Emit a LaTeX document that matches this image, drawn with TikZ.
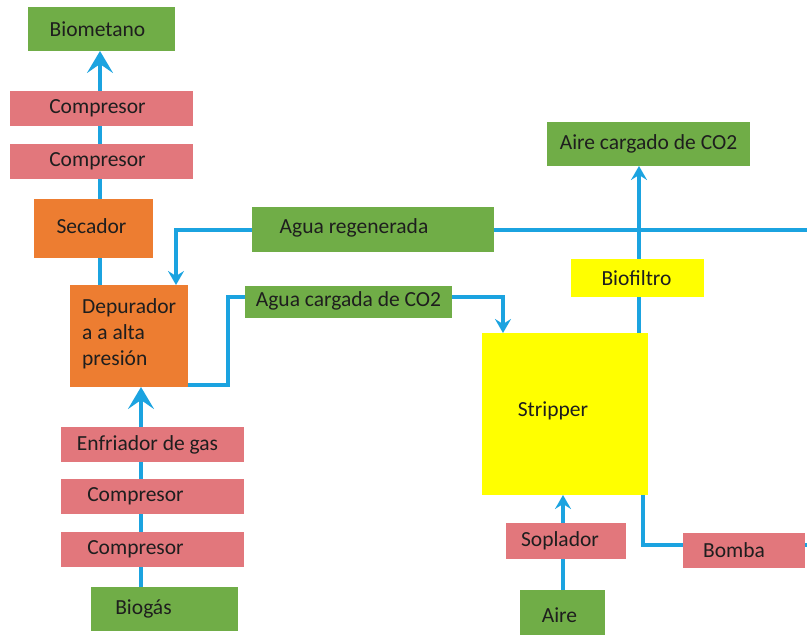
\documentclass[tikz,border=0pt]{standalone}
\usepackage{fontspec}
\setmainfont{Carlito}
\usetikzlibrary{arrows.meta}
\pgfdeclarelayer{pipes}
\pgfsetlayers{pipes,main}

\definecolor{pipeblue}{HTML}{1BA3E0}
\definecolor{boxgreen}{HTML}{70AD47}
\definecolor{boxred}{HTML}{E2777C}
\definecolor{boxorange}{HTML}{ED7D31}
\definecolor{boxyellow}{HTML}{FFFF00}
\definecolor{txtc}{HTML}{1E1E1E}

\begin{document}
\begin{tikzpicture}[x=1pt,y=-1pt,
  blk/.style={anchor=north west, inner sep=0pt, outer sep=0pt, draw=none},
  green/.style={blk, fill=boxgreen},
  red/.style={blk, fill=boxred},
  orange/.style={blk, fill=boxorange},
  yellow/.style={blk, fill=boxyellow},
  txt/.style={font=\fontsize{21.5}{26}\selectfont, text=txtc, inner sep=0pt},
  pipe/.style={draw=pipeblue, line width=4.5pt},
  bigtip/.tip={Stealth[length=22pt,width=26pt,inset=9pt]},
  smalltip/.tip={Stealth[length=14pt,width=16pt,inset=5pt]}]
\useasboundingbox (0,0) rectangle (807,635);

% ---- gas line (left column) ----
\node[green, minimum width=147pt, minimum height=44pt,
  label={[txt,xshift=-4pt]center:Biometano}] (biomet) at (28,7) {};
\node[red, minimum width=183pt, minimum height=35pt,
  label={[txt,xshift=-4pt]center:Compresor}] (comp1) at (10,91) {};
\node[red, minimum width=183pt, minimum height=35pt,
  label={[txt,xshift=-4pt]center:Compresor}] (comp2) at (10,144) {};
\node[orange, minimum width=119pt, minimum height=59pt,
  label={[txt,xshift=-2pt,yshift=2pt]center:Secador}] (secador) at (34,199) {};
\node[orange, minimum width=118pt, minimum height=102pt] (depur) at (70,285) {};
\node[txt, align=left, anchor=west] (depurtxt) at (82,334) {Depurador\\a a alta\\presión};
\node[red, minimum width=183pt, minimum height=35pt,
  label={[txt,xshift=-5pt]center:Enfriador de gas}] (enfr) at (61,427) {};
\node[red, minimum width=183pt, minimum height=35pt,
  label={[txt,xshift=-17pt]center:Compresor}] (comp3) at (61,479) {};
\node[red, minimum width=183pt, minimum height=35pt,
  label={[txt,xshift=-17pt]center:Compresor}] (comp4) at (61,532) {};
\node[green, minimum width=147pt, minimum height=44pt,
  label={[txt,xshift=-21pt]center:Biogás}] (biogas) at (91,587) {};

% ---- water loop ----
\node[green, minimum width=242pt, minimum height=45pt,
  label={[txt,xshift=-19pt,yshift=2pt]center:Agua regenerada}] (regen) at (252,207) {};
\node[green, minimum width=207pt, minimum height=32pt,
  label={[txt,yshift=1pt]center:Agua cargada de CO2}] (cargada) at (245,286) {};

% ---- stripping column ----
\node[green, minimum width=203pt, minimum height=44pt,
  label={[txt]center:Aire cargado de CO2}] (airec) at (547,122) {};
\node[yellow, minimum width=133pt, minimum height=38pt,
  label={[txt,xshift=-1pt]center:Biofiltro}] (biofil) at (571,259) {};
\node[yellow, minimum width=166pt, minimum height=162pt,
  label={[txt,xshift=-12pt,yshift=3pt]center:Stripper}] (stripper) at (482,333) {};
\node[red, minimum width=120pt, minimum height=36pt,
  label={[txt,xshift=-6pt]center:Soplador}] (soplador) at (506,523) {};
\node[green, minimum width=85pt, minimum height=46pt,
  label={[txt,xshift=-3pt,yshift=-2pt]center:Aire}] (aire) at (520,590) {};
\node[red, minimum width=122pt, minimum height=35pt,
  label={[txt,xshift=-10pt]center:Bomba}] (bomba) at (683,533) {};

% ---- pipe routing ----
\coordinate (xA) at (100,0);
\coordinate (xB) at (141,0);
\coordinate (xC) at (176,0);
\coordinate (xD) at (228,0);
\coordinate (xE) at (503,0);
\coordinate (xF) at (639,0);
\coordinate (xG) at (643,0);
\coordinate (xH) at (563,0);
\coordinate (yDep) at (0,385);
\coordinate (yCarg) at (0,297);
\coordinate (yBomba) at (0,545);
\coordinate (edgeTop) at (807,230);
\coordinate (edgeBot) at (807,545);

\begin{pgfonlayer}{pipes}
  \draw[pipe,-bigtip] (depur.north -| xA) -- (biomet.south -| xA);
  \draw[pipe,-bigtip] (biogas.north -| xB) -- (depur.south -| xB);
  \draw[pipe] (edgeTop) -- (regen.east |- edgeTop);
  \draw[pipe,-smalltip] (regen.west |- edgeTop) -| (depur.north -| xC);
  \draw[pipe] (depur.east |- yDep) -- (xD |- yDep) -- (xD |- yCarg) -- (cargada.west |- yCarg);
  \draw[pipe,-smalltip] (cargada.east |- yCarg) -| (stripper.north -| xE);
  \draw[pipe,-smalltip] (stripper.north -| xF) -- (airec.south -| xF);
  \draw[pipe] (stripper.south -| xG) |- (bomba.west |- yBomba);
  \draw[pipe] (bomba.east |- yBomba) -- (edgeBot);
  \draw[pipe,-smalltip] (aire.north -| xH) -- (stripper.south -| xH);
\end{pgfonlayer}
\end{tikzpicture}
\end{document}
